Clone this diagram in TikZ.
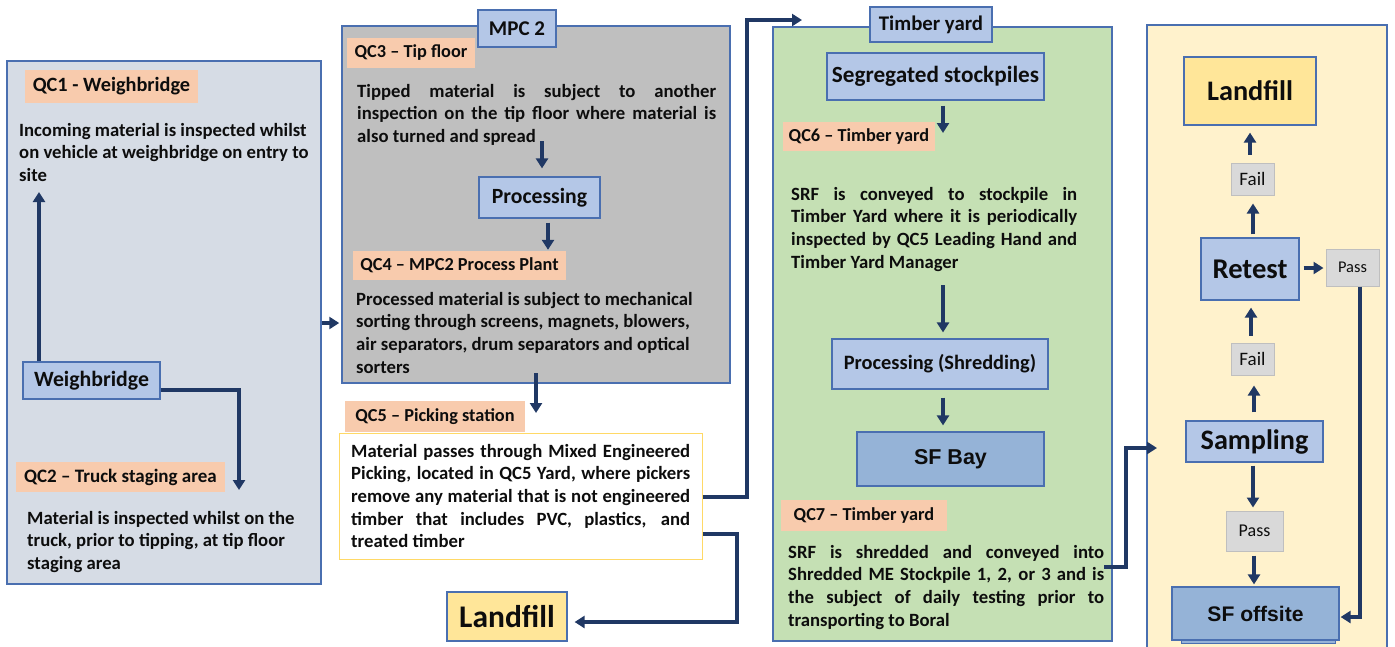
\documentclass[tikz,border=0pt]{standalone}
\usepackage{fontspec}
\setmainfont{Carlito}
\newfontfamily\arialf{Liberation Sans}
\usetikzlibrary{arrows.meta,calc}
\definecolor{navy}{HTML}{203864}
\definecolor{bord}{HTML}{4A6FB0}
\definecolor{leftbg}{HTML}{D6DCE5}
\definecolor{mpcbg}{HTML}{BFBFBF}
\definecolor{greenbg}{HTML}{C5E0B4}
\definecolor{yellowbg}{HTML}{FFF2CC}
\definecolor{peach}{HTML}{F8CBAD}
\definecolor{boxblue}{HTML}{B4C7E7}
\definecolor{sfblue}{HTML}{95B3D7}
\definecolor{lfyellow}{HTML}{FFE699}
\definecolor{pfgray}{HTML}{D9D9D9}
\definecolor{pfbord}{HTML}{BFBFBF}
\definecolor{t5bord}{HTML}{FFD966}
\definecolor{txt}{HTML}{0D0D0D}
\newcommand\jline[2]{\makebox[#1pt][s]{#2}}
\begin{document}
\begin{tikzpicture}[x=1pt,y=-1pt,
  every node/.style={text=txt},
  panel/.style={draw=bord, line width=1.5pt, inner sep=0},
  lbl/.style={fill=peach, inner sep=0, font=\bfseries\fontsize{18.3}{21}\selectfont},
  box/.style={draw=bord, fill=boxblue, line width=1.2pt, inner sep=0},
  body/.style={inner sep=0, anchor=base west, align=left, font=\bfseries\fontsize{18.7}{22.7}\selectfont},
  pf/.style={draw=pfbord, fill=pfgray, line width=1pt, inner sep=0, font=\fontsize{19}{21}\selectfont},
  arr/.style={navy, line width=3.5pt, -{Triangle[width=12pt,length=10pt]}}
]
\useasboundingbox (0,0) rectangle (1395,646);
% panels
\node[panel, fill=leftbg, minimum width=314, minimum height=523] (lp) at (164,322.5) {};
\node[panel, fill=mpcbg, minimum width=388, minimum height=357] (mpc) at (536,204.5) {};
\node[box, minimum width=78, minimum height=37, font=\bfseries\fontsize{21}{24}\selectfont] (mpctab) at (517,28.5) {MPC 2};
\node[panel, fill=greenbg, minimum width=339, minimum height=614] (tp) at (942.5,334) {};
\node[box, minimum width=122, minimum height=35, font=\bfseries\fontsize{20.8}{24}\selectfont] (tytab) at (931,24.5) {Timber yard};
\node[panel, fill=yellowbg, minimum width=240, minimum height=635] (rp) at (1267,342.5) {};

% labels
\node[lbl, minimum width=173, minimum height=33, font=\bfseries\fontsize{20.3}{23}\selectfont] (qc1) at (111.5,86.5) {QC1 - Weighbridge};
\node[lbl, minimum width=209, minimum height=30, font=\bfseries\fontsize{19}{22}\selectfont] (qc2) at (120.5,477) {QC2 – Truck staging area};
\node[lbl, minimum width=128, minimum height=30] (qc3) at (411,53) {QC3 – Tip floor};
\node[lbl, minimum width=213, minimum height=29] (qc4) at (459.5,265.5) {QC4 – MPC2 Process Plant};
\node[lbl, minimum width=180, minimum height=31] (qc5) at (435,416.5) {QC5 – Picking station};
\node[lbl, minimum width=152, minimum height=29] (qc6) at (859,136.5) {QC6 – Timber yard};
\node[lbl, minimum width=166, minimum height=31] (qc7) at (864,515.5) {QC7 – Timber yard};

% text box for QC5
\node[draw=t5bord, fill=white, line width=1pt, minimum width=363, minimum height=126, inner sep=0] (t5box) at (520.5,496) {};

% body texts (anchor at baseline of last line)
\node[body] (t1) at (19,181.4) {Incoming material is inspected whilst\\on vehicle at weighbridge on entry to\\site};
\node[body] (t2) at (27,569.4) {Material is inspected whilst on the\\truck, prior to tipping, at tip floor\\staging area};
\node[body] (t3) at (357,142.4) {\jline{359}{Tipped material is subject to another}\\\jline{359}{inspection on the tip floor where material is}\\also turned and spread};
\node[body] (t4) at (356,373.1) {Processed material is subject to mechanical\\sorting through screens, magnets, blowers,\\air separators, drum separators and optical\\sorters};
\node[body] (t5) at (351,547.8) {\jline{339}{Material passes through Mixed Engineered}\\\jline{339}{Picking, located in QC5 Yard, where pickers}\\\jline{339}{remove any material that is not engineered}\\\jline{339}{timber that includes PVC, plastics, and}\\treated timber};
\node[body] (t6) at (791,268.1) {\jline{286}{SRF is conveyed to stockpile in}\\\jline{286}{Timber Yard where it is periodically}\\\jline{286}{inspected by QC5 Leading Hand and}\\Timber Yard Manager};
\node[body] (t7) at (788,626.1) {\jline{316}{SRF is shredded and conveyed into}\\\jline{316}{Shredded ME Stockpile 1, 2, or 3 and is}\\\jline{316}{the subject of daily testing prior to}\\transporting to Boral};

% boxes
\node[box, minimum width=137, minimum height=37, font=\bfseries\fontsize{21.8}{24}\selectfont] (wb) at (91.5,380.5) {Weighbridge};
\node[box, minimum width=121, minimum height=41, font=\bfseries\fontsize{21.7}{24}\selectfont] (proc1) at (539.5,197.5) {Processing};
\node[box, fill=lfyellow, minimum width=120, minimum height=49, font=\bfseries\fontsize{31.5}{34}\selectfont] (lf1) at (507,616.5) {Landfill};
\node[box, minimum width=217, minimum height=47, font=\bfseries\fontsize{23.2}{26}\selectfont] (seg) at (935.5,76.5) {Segregated stockpiles};
\node[box, minimum width=216, minimum height=50, font=\bfseries\fontsize{20.4}{24}\selectfont] (shred) at (940,364) {Processing (Shredding)};
\node[box, fill=sfblue, minimum width=187, minimum height=54, font=\arialf\bfseries\fontsize{21.5}{24}\selectfont] (sfbay) at (950.5,459) {SF Bay};
\node[box, fill=lfyellow, minimum width=132, minimum height=68, font=\bfseries\fontsize{28.3}{32}\selectfont] (lf2) at (1250,91) {Landfill};
\node[pf, minimum width=43, minimum height=32] (fail1) at (1252.5,179) {Fail};
\node[box, minimum width=98, minimum height=62, font=\bfseries\fontsize{28.6}{32}\selectfont] (retest) at (1250,269) {Retest};
\node[pf, minimum width=53, minimum height=37, font=\fontsize{16.4}{19}\selectfont] (pass1) at (1352.5,267.5) {Pass};
\node[pf, minimum width=43, minimum height=32] (fail2) at (1252.5,359) {Fail};
\node[box, minimum width=137, minimum height=41, font=\bfseries\fontsize{28.2}{32}\selectfont] (samp) at (1254.5,441.5) {Sampling};
\node[pf, minimum width=57, minimum height=40, font=\fontsize{18}{20}\selectfont] (pass2) at (1254.5,531) {Pass};
\node[box, fill=sfblue, minimum width=167, minimum height=53, font=\arialf\bfseries\fontsize{21.1}{24}\selectfont] (sfoff) at (1255.5,613.5) {SF offsite};
\draw[draw=bord, fill=sfblue, line width=0.8pt] ([xshift=10pt]sfoff.south west) rectangle ([xshift=-4pt,yshift=-3pt]sfoff.south east);

% free ends
\coordinate (c1) at (39,192);
\coordinate (c2) at (239,490);
\coordinate (c6) at (536,373);
\coordinate (c6e) at (536,413);
\coordinate (c7) at (802,20);
\coordinate (c9) at (943,133);
\coordinate (c10) at (943,285);
\coordinate (c12) at (1157,448);
\coordinate (c3s) at (542,141);

% connectors
\draw[arr] (wb.north -| c1) -- (c1);
\draw[arr] (wb.east |- 0,390) -- (239,390) -- (c2);
\draw[arr, shorten >=2pt] (lp.east |- 0,323) -- (mpc.west |- 0,323);
\draw[arr, shorten >=8pt] (c3s) -- (proc1.north -| c3s);
\draw[arr, shorten <=4pt, shorten >=1pt] (proc1.south -| 548,0) -- (qc4.north -| 548,0);
\draw[arr] (c6) -- (c6e);
\draw[arr] (t5box.east |- 0,497) -- (747,497) |- (c7);
\draw[arr, shorten >=7pt] (t5box.east |- 0,534) -- (737,534) -- (737,622) -- (lf1.east |- 0,622);
\draw[arr, shorten <=5pt] (seg.south -| c9) -- (c9);
\draw[arr, shorten >=6pt] (c10) -- (shred.north -| c10);
\draw[arr, shorten <=8pt, shorten >=6pt] (shred.south -| c10) -- (sfbay.north -| c10);
\draw[arr] (t7.east |- 0,567) -- (1126,567) |- (c12);
\draw[arr, shorten <=8pt, shorten >=7pt] (fail1.north -| 1250,0) -- (lf2.south -| 1250,0);
\draw[arr, shorten <=3pt, shorten >=8pt] (retest.north -| 1253,0) -- (fail1.south -| 1253,0);
\draw[arr, shorten <=4pt, shorten >=2pt] (retest.east |- 0,268) -- (pass1.west |- 0,268);
\draw[arr, shorten <=7pt, shorten >=7pt] (fail2.north -| 1251,0) -- (retest.south -| 1251,0);
\draw[arr, shorten <=8pt, shorten >=10pt] (samp.north -| 1254,0) -- (fail2.south -| 1254,0);
\draw[arr, shorten <=3pt, shorten >=3pt] (samp.south -| 1253,0) -- (pass2.north -| 1253,0);
\draw[arr, shorten <=4pt, shorten >=2pt] (pass2.south -| 1254,0) -- (sfoff.north -| 1254,0);
\draw[arr, shorten >=1pt] (pass1.south -| 1360,0) -- (1360,617) -- (sfoff.east |- 0,617);
\end{tikzpicture}
\end{document}
